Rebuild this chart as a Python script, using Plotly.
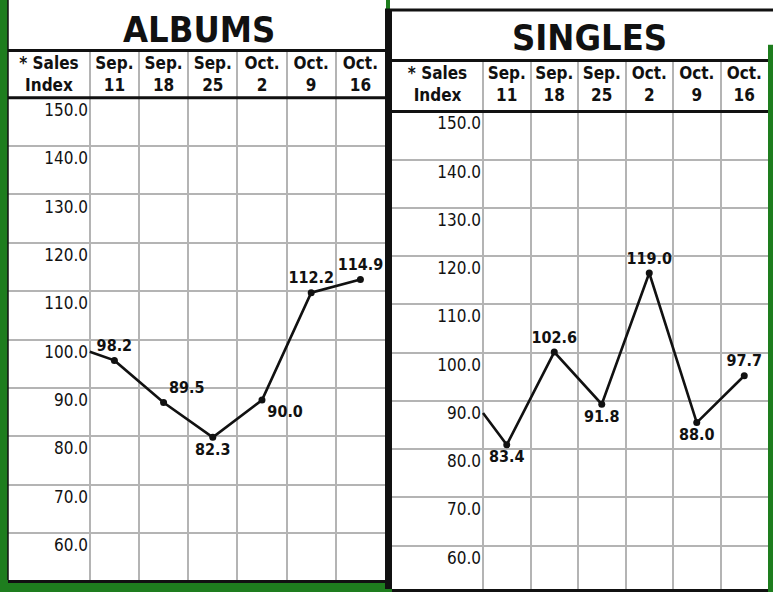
import plotly.graph_objects as go

W, H = 773, 592

# ---------------- data ----------------
week_labels = ["Sep.<br>11", "Sep.<br>18", "Sep.<br>25", "Oct.<br>2", "Oct.<br>9", "Oct.<br>16"]
week_pos = [1, 2, 3, 4, 5, 6]
index_header = "* Sales<br>Index"

albums_prev = 100.0
albums = [98.2, 89.5, 82.3, 90.0, 112.2, 114.9]
albums_text_pos = ["top center", "top right", "bottom center", "bottom right", "top center", "top center"]

singles_prev = 90.0
singles = [83.4, 102.6, 91.8, 119.0, 88.0, 97.7]
singles_text_pos = ["bottom center", "top center", "bottom center", "top center", "bottom center", "top center"]

index_ticks = [150, 140, 130, 120, 110, 100, 90, 80, 70, 60]
index_labels = ["150.0", "140.0", "130.0", "120.0", "110.0", "100.0", "90.0", "80.0", "70.0", "60.0"]
grid_y = [152.5, 142.5, 132.5, 122.5, 112.5, 102.5, 92.5, 82.5, 72.5, 62.5]
grid_x = [0.5, 1.5, 2.5, 3.5, 4.5, 5.5, 6.5]

# ---------------- style ----------------
FONT = "DejaVu Sans Condensed, Liberation Sans Narrow, sans-serif"
GREEN = "#1e7d1e"
GRID = "#b4b4b4"
INK = "#111111"


def px(x):
    return x / W


def py(y):
    return 1 - y / H


fig = go.Figure()

panels = [
    dict(x="x", y="y", prev=albums_prev, vals=albums, tpos=albums_text_pos),
    dict(x="x2", y="y2", prev=singles_prev, vals=singles, tpos=singles_text_pos),
]
for p in panels:
    fig.add_trace(go.Scatter(
        x=[0.5] + week_pos, y=[p["prev"]] + p["vals"], mode="lines",
        line=dict(color=INK, width=2.6), xaxis=p["x"], yaxis=p["y"],
        hoverinfo="skip", showlegend=False))
    fig.add_trace(go.Scatter(
        x=week_pos, y=p["vals"], mode="markers+text",
        marker=dict(color=INK, size=7),
        text=[f"{v:.1f}" for v in p["vals"]], textposition=p["tpos"],
        textfont=dict(family=FONT, size=16, color=INK, weight="bold"),
        cliponaxis=False, xaxis=p["x"], yaxis=p["y"], showlegend=False))


def xaxis_cfg(dom, rng, header_x, anchor):
    return dict(
        domain=dom, range=rng, side="top", anchor=anchor,
        tickvals=[header_x] + week_pos, ticktext=[index_header] + week_labels,
        ticklabelposition="inside", ticks="", ticklabelstandoff=6,
        tickfont=dict(family=FONT, size=17, color=INK, weight="bold"),
        showgrid=False, zeroline=False,
        minor=dict(tickvals=grid_x, showgrid=True, gridcolor=GRID, gridwidth=2, ticks=""),
        showline=True, linecolor=INK, linewidth=3, mirror=True, fixedrange=True)


def yaxis_cfg(dom, rng, pos):
    return dict(
        domain=dom, range=rng, anchor="free", position=pos,
        tickvals=index_ticks, ticktext=index_labels, ticks="",
        tickfont=dict(family=FONT, size=17, color=INK),
        ticklabelstandoff=2,
        showgrid=False, zeroline=False, showline=False,
        minor=dict(tickvals=grid_y, showgrid=True, gridcolor=GRID, gridwidth=2, ticks=""),
        fixedrange=True)


xa1 = xaxis_cfg([px(8), px(385)], [-1.162, 6.5], -0.33, "y")
xa2 = xaxis_cfg([px(392), px(768)], [-1.416, 6.5], -0.458, "y2")
ya1 = yaxis_cfg([py(583), py(52)], [52.8, 162.0], px(90))
ya2 = yaxis_cfg([py(592), py(62)], [53.5, 162.8], px(483))

shapes = [
    dict(type="rect", xref="paper", yref="paper", x0=px(8), x1=px(386), y0=py(583), y1=1,
         fillcolor="white", line=dict(width=0), layer="below"),
    dict(type="rect", xref="paper", yref="paper", x0=px(390), x1=px(768), y0=0, y1=1,
         fillcolor="white", line=dict(width=0), layer="below"),
    dict(type="rect", xref="paper", yref="paper", x0=px(766), x1=1, y0=py(45), y1=1,
         fillcolor="white", line=dict(width=0), layer="below"),
    dict(type="line", xref="paper", yref="paper", x0=px(8), x1=px(8), y0=py(583), y1=1,
         line=dict(color=INK, width=1.5)),
    dict(type="rect", xref="paper", yref="paper", x0=px(385), x1=px(392), y0=0, y1=py(10),
         fillcolor=INK, line=dict(width=0)),
    dict(type="line", xref="paper", yref="paper", x0=px(385), x1=1, y0=py(10), y1=py(10),
         line=dict(color=INK, width=3)),
    dict(type="line", xref="x domain", yref="y", x0=0, x1=1, y0=grid_y[0], y1=grid_y[0],
         line=dict(color=INK, width=3)),
    dict(type="line", xref="x2 domain", yref="y2", x0=0, x1=1, y0=grid_y[0], y1=grid_y[0],
         line=dict(color=INK, width=3)),
]

annotations = [
    dict(text="ALBUMS", xref="paper", yref="paper", x=px(199), y=py(30), showarrow=False,
         font=dict(family=FONT, size=36, color=INK, weight="bold"), xanchor="center", yanchor="middle"),
    dict(text="SINGLES", xref="paper", yref="paper", x=px(589), y=py(38), showarrow=False,
         font=dict(family=FONT, size=36, color=INK, weight="bold"), xanchor="center", yanchor="middle"),
]

fig.update_layout(
    width=W, height=H, margin=dict(l=0, r=0, t=0, b=0),
    paper_bgcolor=GREEN, plot_bgcolor="white",
    xaxis=xa1, yaxis=ya1, xaxis2=xa2, yaxis2=ya2,
    shapes=shapes, annotations=annotations, showlegend=False,
)

fig.write_html("out.html", config={"displayModeBar": False, "staticPlot": True},
               post_script="document.body.style.margin='0';document.body.style.padding='0';")
